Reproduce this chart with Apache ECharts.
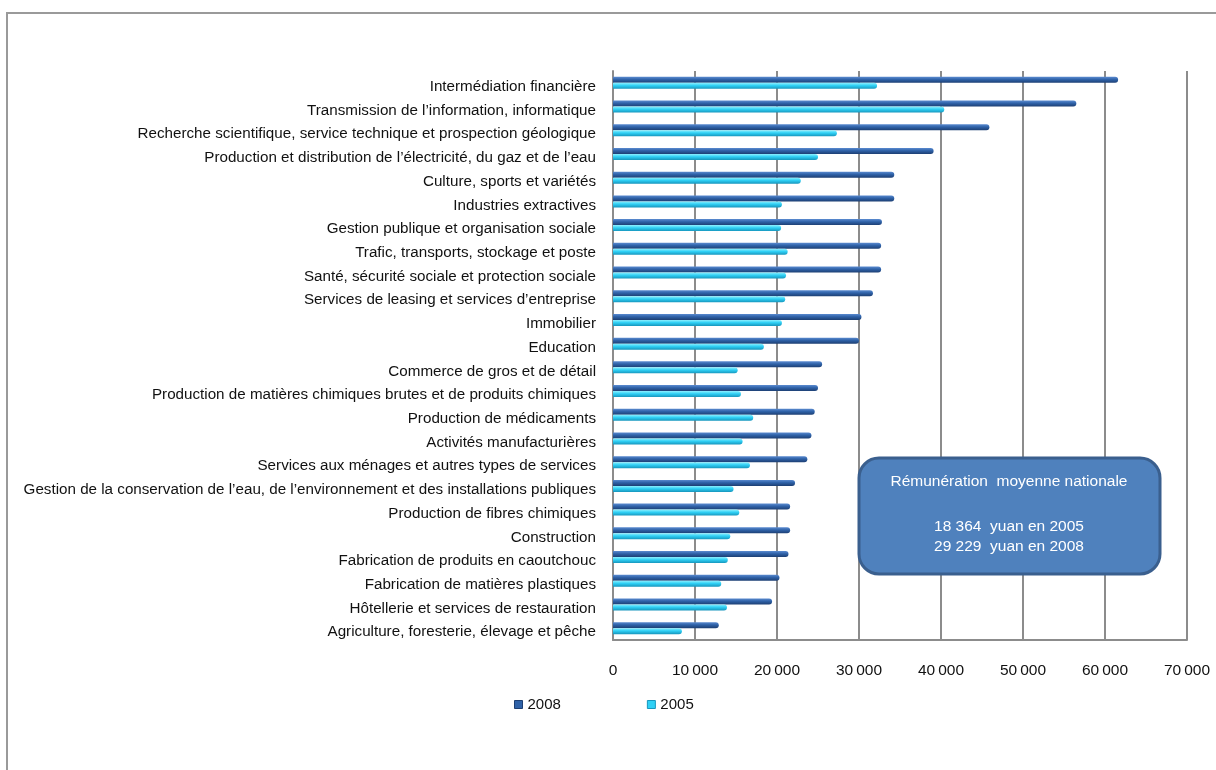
<!DOCTYPE html>
<html>
<head>
<meta charset="utf-8">
<title>Rémunération moyenne par secteur</title>
<script src="https://cdn.jsdelivr.net/npm/echarts@6/dist/echarts.min.js"></script>
<style>
  html, body { margin: 0; padding: 0; background: #fff; }
  #chart { width: 1216px; height: 770px; }
</style>
</head>
<body>
<div id="chart"></div>
<script>
// Sectors, top to bottom
const categories = [
  "Intermédiation financière",
  "Transmission de l’information, informatique",
  "Recherche scientifique, service technique et prospection géologique",
  "Production et distribution de l’électricité, du gaz et de l’eau",
  "Culture, sports et variétés",
  "Industries extractives",
  "Gestion publique et organisation sociale",
  "Trafic, transports, stockage et poste",
  "Santé, sécurité sociale et protection sociale",
  "Services de leasing et services d’entreprise",
  "Immobilier",
  "Education",
  "Commerce de gros et de détail",
  "Production de matières chimiques brutes et de produits chimiques",
  "Production de médicaments",
  "Activités manufacturières",
  "Services aux ménages et autres types de services",
  "Gestion de la conservation de l’eau, de l’environnement et des installations publiques",
  "Production de fibres chimiques",
  "Construction",
  "Fabrication de produits en caoutchouc",
  "Fabrication de matières plastiques",
  "Hôtellerie et services de restauration",
  "Agriculture, foresterie, élevage et pêche"
];

// Average annual pay (yuan)
const values2008 = [61600, 56500, 45900, 39100, 34300, 34300, 32800, 32700, 32700, 31700,
                    30300, 30000, 25500, 25000, 24600, 24200, 23700, 22200, 21600, 21600,
                    21400, 20300, 19400, 12900];
const values2005 = [32200, 40400, 27300, 25000, 22900, 20600, 20500, 21300, 21100, 21000,
                    20600, 18400, 15200, 15600, 17100, 15800, 16700, 14700, 15400, 14300,
                    14000, 13200, 13900, 8400];

const seriesNames = ["2008", "2005"];
const axisTicks = [0, 10000, 20000, 30000, 40000, 50000, 60000, 70000];

const boxTitle = "Rémunération  moyenne nationale";
const boxLines = ["18 364  yuan en 2005", "29 229  yuan en 2008"];

const FONT = "'Liberation Sans', Arial, sans-serif";

function fmt(v) {
  return String(v).replace(/\B(?=(\d{3})+(?!\d))/g, "\u2009");
}

const grad2008 = new echarts.graphic.LinearGradient(0, 0, 0, 1, [
  { offset: 0, color: "#5b8bd0" },
  { offset: 0.45, color: "#2f62a8" },
  { offset: 1, color: "#1d3f73" }
]);
const grad2005 = new echarts.graphic.LinearGradient(0, 0, 0, 1, [
  { offset: 0, color: "#8ff0ff" },
  { offset: 0.45, color: "#2fd0f5" },
  { offset: 1, color: "#1796bd" }
]);

const chart = echarts.init(document.getElementById("chart"), null, { renderer: "canvas" });

chart.setOption({
  animation: false,
  backgroundColor: "#ffffff",
  textStyle: { fontFamily: FONT },
  grid: { left: 613, right: 29, top: 71, bottom: 130, containLabel: false },
  legend: {
    left: 509,
    top: 692,
    itemWidth: 8,
    itemHeight: 8,
    itemGap: 86,
    icon: "rect",
    textStyle: { fontFamily: FONT, fontSize: 15, color: "#111" },
    data: [
      { name: seriesNames[0], itemStyle: { color: "#2f62a8", borderColor: "#1d3f73", borderWidth: 1 } },
      { name: seriesNames[1], itemStyle: { color: "#2fd0f5", borderColor: "#1796bd", borderWidth: 1 } }
    ]
  },
  xAxis: {
    type: "value",
    min: axisTicks[0],
    max: axisTicks[axisTicks.length - 1],
    interval: axisTicks[1] - axisTicks[0],
    axisLine: { show: true, lineStyle: { color: "#8c8c8c", width: 2 } },
    axisTick: { show: false },
    splitLine: { show: true, lineStyle: { color: "#8c8c8c", width: 2 } },
    axisLabel: {
      margin: 23,
      fontFamily: FONT,
      fontSize: 15.5,
      color: "#111",
      formatter: fmt
    }
  },
  yAxis: {
    type: "category",
    inverse: true,
    data: categories,
    axisLine: { show: true, lineStyle: { color: "#8c8c8c", width: 2 } },
    axisTick: { show: false },
    axisLabel: {
      margin: 17,
      color: "#111",
      // a short spacer line above the name nudges the text just below the bar pair
      formatter: name => "{gap| }\n{t|" + name + "}",
      rich: {
        gap: { fontSize: 4, lineHeight: 8, height: 8 },
        t: { fontFamily: FONT, fontSize: 15.2, lineHeight: 16, color: "#111" }
      }
    }
  },
  series: [
    {
      name: seriesNames[0],
      type: "bar",
      data: values2008,
      barWidth: 6,
      barGap: "0%",
      itemStyle: { color: grad2008, borderRadius: [0, 3, 3, 0] }
    },
    {
      name: seriesNames[1],
      type: "bar",
      data: values2005,
      barWidth: 6,
      itemStyle: { color: grad2005, borderRadius: [0, 3, 3, 0] }
    }
  ],
  graphic: [
    {
      type: "rect",
      silent: true,
      shape: { x: 7, y: 13, width: 1240, height: 800 },
      style: { fill: null, stroke: "#9a9a9a", lineWidth: 2 },
      z: 100
    },
    {
      type: "rect",
      shape: { x: 859, y: 458, width: 301, height: 116, r: 20 },
      style: { fill: "#4f81bd", stroke: "#3a5f8e", lineWidth: 3 },
      z: 100
    },
    {
      type: "text",
      x: 1009,
      y: 482,
      style: {
        text: boxTitle,
        fill: "#ffffff",
        font: "15.5px " + FONT,
        align: "center",
        verticalAlign: "middle"
      },
      z: 101
    },
    {
      type: "text",
      x: 1009,
      y: 537,
      style: {
        text: boxLines.join("\n"),
        fill: "#ffffff",
        font: "15.5px " + FONT,
        lineHeight: 20,
        align: "center",
        verticalAlign: "middle"
      },
      z: 101
    }
  ]
});
</script>
</body>
</html>
